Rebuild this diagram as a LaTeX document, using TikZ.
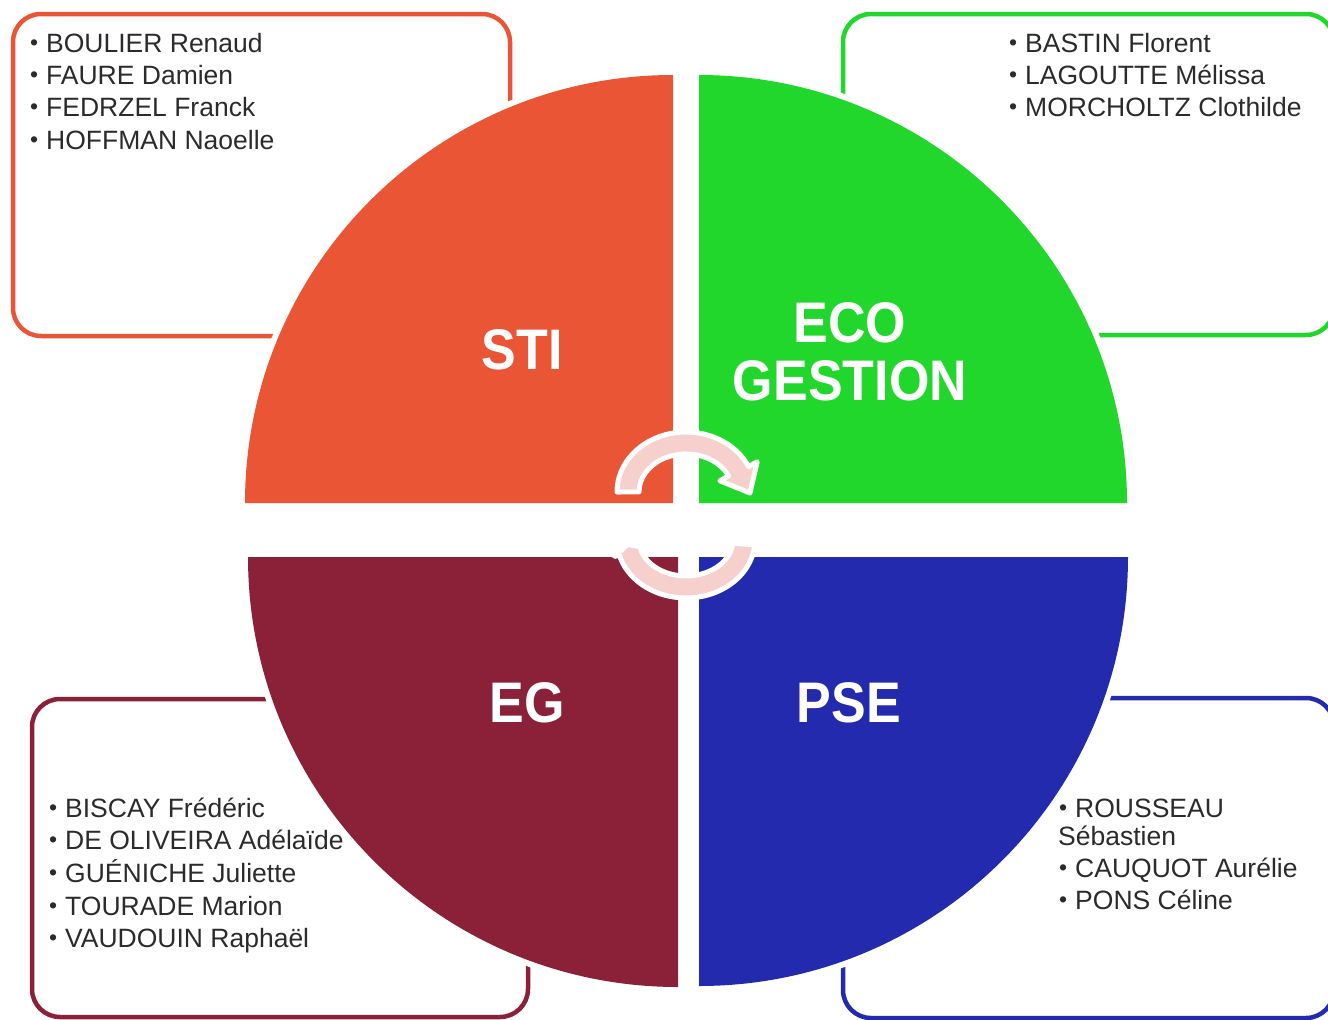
\documentclass[tikz,border=0pt]{standalone}
\usepackage{fontspec}
\setmainfont{Liberation Sans}
\usepackage{graphicx}
\definecolor{stiC}{HTML}{E95535}
\definecolor{ecoC}{HTML}{22D72C}
\definecolor{egC}{HTML}{8B2138}
\definecolor{pseC}{HTML}{242AAE}
\definecolor{pinkC}{HTML}{F6D0CD}
\definecolor{txtC}{HTML}{2B2B2B}
\newcommand\mybul{\makebox[16pt][l]{\fontsize{23}{23}\selectfont\raisebox{1.5pt}{•}}}
\newcommand\tall[1]{\scalebox{1}[1.1]{#1}}
\begin{document}
\begin{tikzpicture}[x=1pt,y=-1pt,
  listbox/.style={line width=4.5pt, rounded corners=28pt},
  halo/.style={fill=white, draw=white, line width=12pt},
  arrowband/.style={fill=pinkC, draw=white, line width=5pt, line join=round},
  lbl/.style={text=white, font=\fontsize{52}{58}\selectfont\bfseries, inner sep=0pt, align=center},
  nm/.style={text=txtC, font=\fontsize{26.5}{32}\selectfont, anchor=base west, inner sep=0pt}]
\useasboundingbox (0,0) rectangle (1328,1020);

% list boxes
\draw[listbox, draw=stiC] (13,14) rectangle (510,336);
\draw[listbox, draw=ecoC] (843,14) rectangle (1334,335);
\draw[listbox, draw=egC] (32,699) rectangle (528,1017);
\draw[listbox, draw=pseC] (843,698) rectangle (1334,1018);

% white halos of the quarter discs
\path[halo] (673,503) -- (245,503) arc[start angle=180, end angle=270, radius=428] -- cycle;
\path[halo] (699,503) -- (699,75) arc[start angle=270, end angle=360, radius=428] -- cycle;
\path[halo] (678,557) -- (678,987) arc[start angle=90, end angle=180, radius=430] -- cycle;
\path[halo] (699,557) -- (1128,557) arc[start angle=0, end angle=90, radius=429] -- cycle;

% quarter discs
\fill[stiC] (673,503) -- (245,503) arc[start angle=180, end angle=270, radius=428] -- cycle;
\fill[ecoC] (699,503) -- (699,75) arc[start angle=270, end angle=360, radius=428] -- cycle;
\fill[egC] (678,557) -- (678,987) arc[start angle=90, end angle=180, radius=430] -- cycle;
\fill[pseC] (699,557) -- (1128,557) arc[start angle=0, end angle=90, radius=429] -- cycle;

% circular arrows
\path[arrowband] (617,492) arc[start angle=180, end angle=335, x radius=69, y radius=60]
  -- (757.2,461.7) -- (750,493) -- (719.9,480.8) -- (728.6,475.9)
  arc[start angle=335, end angle=180, x radius=47, y radius=38] -- cycle;
\path[arrowband] (754.7,545.0) arc[start angle=5, end angle=165, x radius=69, y radius=58]
  -- (614.5,556.5) -- (627.5,544.4) -- (645.4,547.7) -- (640.6,549.3)
  arc[start angle=165, end angle=5, x radius=47, y radius=36] -- cycle;

% labels
\node[lbl] (sti) at (522,350) {\tall{STI}};
\node[lbl] (eco) at (850,352) {\tall{ECO}\\\tall{GESTION}};
\node[lbl] (eg) at (527,703) {\tall{EG}};
\node[lbl] (pse) at (849,703) {\tall{PSE}};

% STI list
\node[nm] (sti1) at (30,52) {\mybul BOULIER Renaud};
\node[nm] (sti2) at (30,84) {\mybul FAURE Damien};
\node[nm] (sti3) at (30,116) {\mybul FEDRZEL Franck};
\node[nm] (sti4) at (30,149) {\mybul HOFFMAN Naoelle};

% ECO GESTION list
\node[nm] (eco1) at (1009,52) {\mybul BASTIN Florent};
\node[nm] (eco2) at (1009,84) {\mybul LAGOUTTE Mélissa};
\node[nm] (eco3) at (1009,116) {\mybul MORCHOLTZ Clothilde};

% EG list
\node[nm] (eg1) at (49,817) {\mybul BISCAY Frédéric};
\node[nm] (eg2) at (49,849) {\mybul DE OLIVEIRA Adélaïde};
\node[nm] (eg3) at (49,882) {\mybul GUÉNICHE Juliette};
\node[nm] (eg4) at (49,915) {\mybul TOURADE Marion};
\node[nm] (eg5) at (49,947) {\mybul VAUDOUIN Raphaël};

% PSE list
\node[nm] (pse1) at (1059,817) {\mybul ROUSSEAU};
\node[nm] (pse1b) at (1058,845) {Sébastien};
\node[nm] (pse2) at (1059,877) {\mybul CAUQUOT Aurélie};
\node[nm] (pse3) at (1059,909) {\mybul PONS Céline};
\end{tikzpicture}
\end{document}
